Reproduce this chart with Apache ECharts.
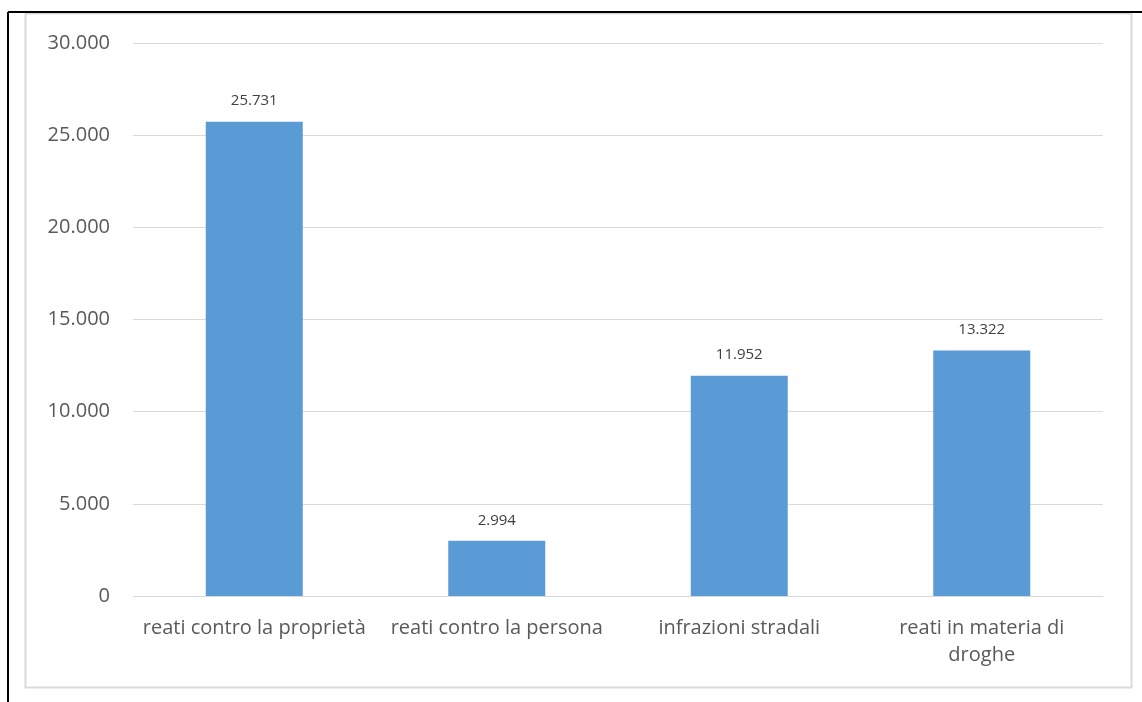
<!DOCTYPE html>
<html>
<head>
<meta charset="utf-8">
<style>
  html, body { margin: 0; padding: 0; background: #ffffff; }
  #chart { width: 1142px; height: 702px; }
</style>
<script src="https://cdn.jsdelivr.net/npm/echarts@6/dist/echarts.min.js"></script>
</head>
<body>
<div id="chart"></div>
<script>
// Offence categories and counts
const categories = [
  'reati contro la proprietà',
  'reati contro la persona',
  'infrazioni stradali',
  'reati in materia di\ndroghe'
];
const values = [25731, 2994, 11952, 13322];
const yTicks = { min: 0, max: 30000, interval: 5000 };

const fmt = v => String(v).replace(/\B(?=(\d{3})+(?!\d))/g, '.');
const FONT = '"Open Sans", Lato, sans-serif';

const chart = echarts.init(document.getElementById('chart'), null, { renderer: 'canvas' });
chart.setOption({
  backgroundColor: '#ffffff',
  animation: false,
  graphic: [
    // outer chart frame
    { type: 'rect', shape: { x: 25.5, y: 13.5, width: 1106, height: 674 },
      style: { fill: 'none', stroke: '#d9d9d9', lineWidth: 2 }, z: 0 },
    // page rules
    { type: 'line', shape: { x1: 8, y1: 12, x2: 1142, y2: 12 },
      style: { stroke: '#000000', lineWidth: 2 }, z: 1 },
    { type: 'line', shape: { x1: 8, y1: 12, x2: 8, y2: 702 },
      style: { stroke: '#000000', lineWidth: 2 }, z: 1 }
  ],
  grid: { left: 133, right: 39, top: 43, bottom: 106, containLabel: false },
  xAxis: {
    type: 'category',
    data: categories,
    axisLine: { show: true, lineStyle: { color: '#d9d9d9', width: 1 } },
    axisTick: { show: false },
    axisLabel: {
      color: '#595959', fontSize: 20, fontFamily: FONT,
      margin: 19, lineHeight: 27, interval: 0
    }
  },
  yAxis: {
    type: 'value',
    min: yTicks.min, max: yTicks.max, interval: yTicks.interval,
    axisLine: { show: false },
    axisTick: { show: false },
    splitLine: { lineStyle: { color: '#d9d9d9', width: 1 } },
    axisLabel: {
      color: '#595959', fontSize: 20, fontFamily: FONT, margin: 23,
      formatter: v => fmt(v)
    }
  },
  series: [{
    type: 'bar',
    data: values,
    barWidth: '40%',
    itemStyle: { color: '#5b9bd5' },
    label: {
      show: true, position: 'top', distance: 13,
      color: '#404040', fontSize: 15, fontFamily: FONT,
      formatter: p => fmt(p.value)
    }
  }]
});
</script>
</body>
</html>
